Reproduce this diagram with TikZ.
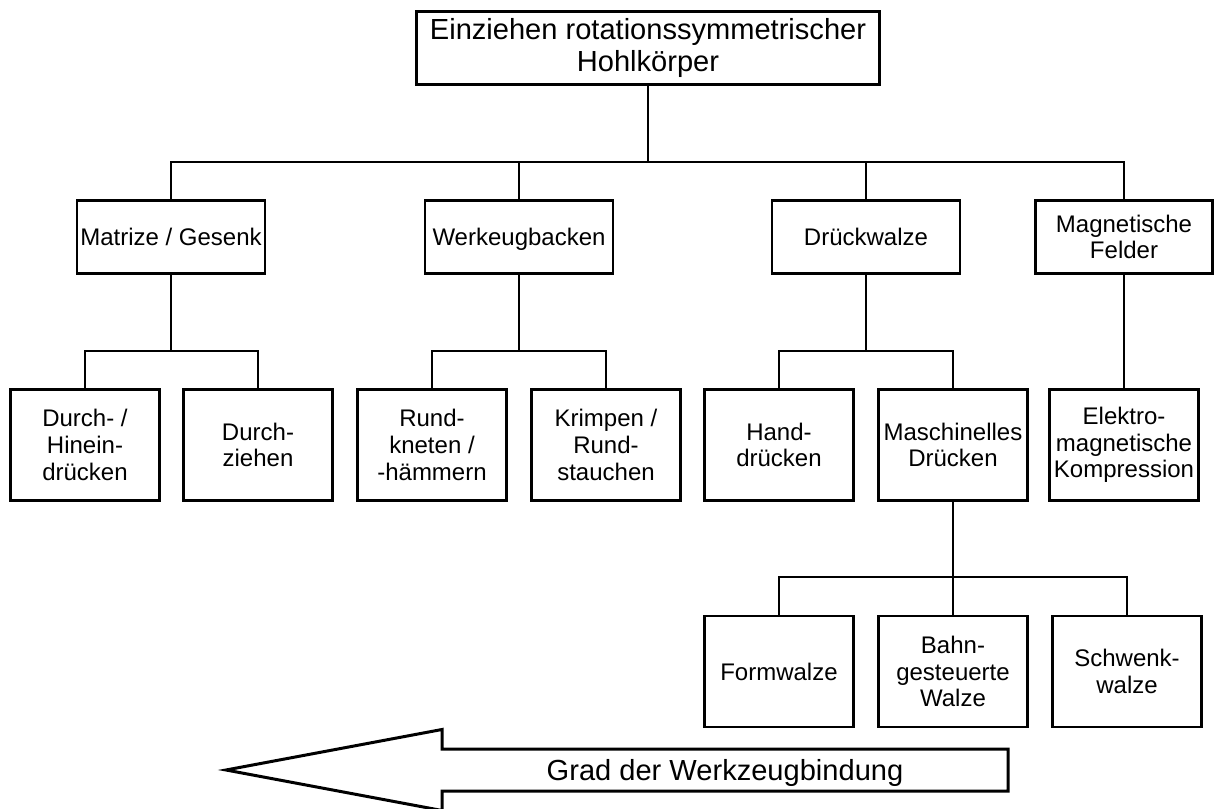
\documentclass[tikz,border=0pt]{standalone}
\usepackage{fontspec}
\setmainfont{Liberation Sans}
\begin{document}
\begin{tikzpicture}[x=0.75pt,y=-0.75pt,
        block/.style={draw,line width=2.1pt,inner sep=0pt,align=center,font=\fontsize{18}{20}\selectfont},
        upper/.style={block,minimum width=141pt,minimum height=55pt},
        lower/.style={block,minimum width=112pt,minimum height=83.2pt},
        oneline/.style={text height=12.9pt,text depth=0pt},
        link/.style={line width=1pt}]
        \useasboundingbox (0,0) rectangle (1214,809);
        \node[draw,line width=2.6pt,inner sep=0pt,align=center,minimum width=347.6pt,minimum height=54.4pt,font=\fontsize{21.8}{24}\selectfont] (top) at (648,48) {Einziehen rotationssymmetrischer\\Hohlkörper};
        \node[upper,oneline] (matrize) at (171,237) {Matrize / Gesenk};
        \node[upper,oneline] (backen) at (519,237) {Werkeugbacken};
        \node[upper,oneline] (walze) at (866,237) {Drückwalze};
        \node[upper,minimum width=132.6pt] (felder) at (1124,237) {Magnetische\\Felder};
        \node[lower] (durch) at (85,445) {Durch- /\\Hinein-\\drücken};
        \node[lower] (ziehen) at (258,445) {Durch-\\ziehen};
        \node[lower] (kneten) at (432,445) {Rund-\\kneten /\\-hämmern};
        \node[lower] (krimpen) at (606,445) {Krimpen /\\Rund-\\stauchen};
        \node[lower] (hand) at (779,445) {Hand-\\drücken};
        \node[lower] (masch) at (953,445) {Maschinelles\\Drücken};
        \node[lower] (elektro) at (1124,445) {Elektro-\\magnetische\\Kompression};
        \node[lower,oneline] (form) at (779,671.5) {Formwalze};
        \node[lower] (bahn) at (953,671.5) {Bahn-\\gesteuerte\\Walze};
        \node[lower] (schwenk) at (1127,671.5) {Schwenk-\\walze};
        \coordinate (b0) at (648,162);
        \coordinate (b1) at (171,351);
        \coordinate (b2) at (519,351);
        \coordinate (b3) at (866,351);
        \coordinate (b4) at (953,577);
        \draw[link] (top.south) -- (b0);
        \draw[link] (matrize.north) |- (b0) -| (felder.north);
        \draw[link] (backen.north) -- (backen.north |- b0);
        \draw[link] (walze.north) -- (walze.north |- b0);
        \draw[link] (matrize.south) -- (b1);
        \draw[link] (durch.north) |- (b1) -| (ziehen.north);
        \draw[link] (backen.south) -- (b2);
        \draw[link] (kneten.north) |- (b2) -| (krimpen.north);
        \draw[link] (walze.south) -- (b3);
        \draw[link] (hand.north) |- (b3) -| (masch.north);
        \draw[link] (felder.south) -- (elektro.north);
        \draw[link] (masch.south) -- (b4);
        \draw[link] (form.north) |- (b4) -| (schwenk.north);
        \draw[link] (bahn.north) -- (b4);
        \draw[line width=2.25pt] (226,770) -- (442,729.5) -- (442,749) -- (1008,749) -- (1008,791) -- (442,791) -- (442,810.5) -- cycle;
        \node[font=\fontsize{21.8}{24}\selectfont,text height=15.6pt,text depth=0pt] (grad) at (725,770) {Grad der Werkzeugbindung};
\end{tikzpicture}
\end{document}
